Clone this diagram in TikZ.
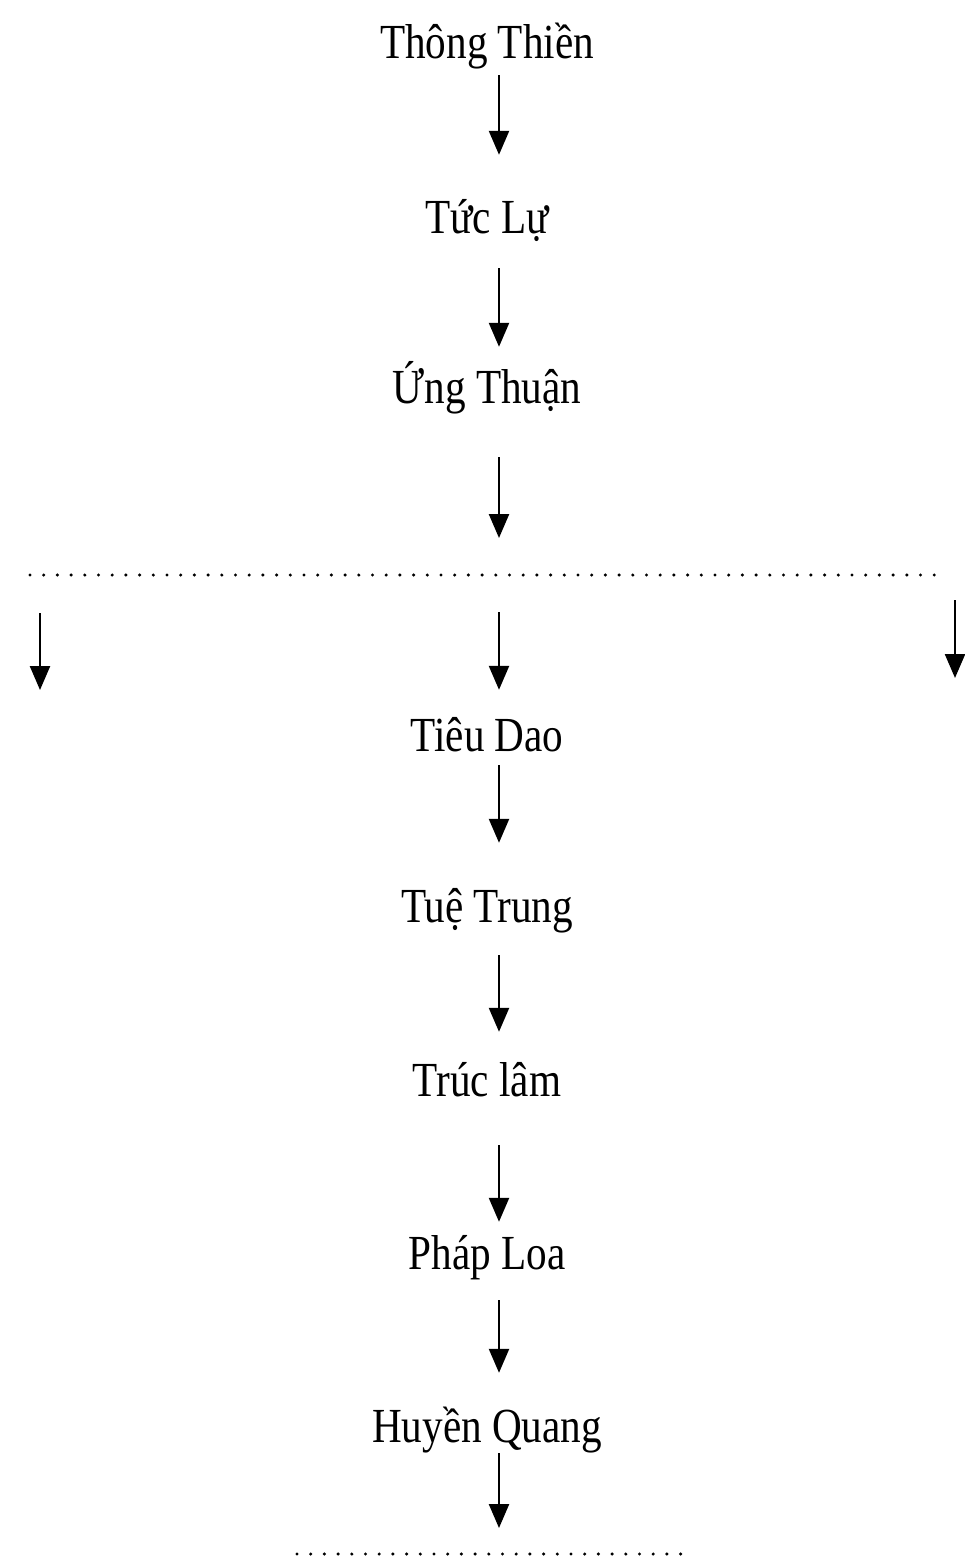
\documentclass[tikz,border=0pt]{standalone}
\usepackage{fontspec}
\newfontfamily\namefont[FakeStretch=0.84]{Liberation Serif}
\usetikzlibrary{arrows.meta}

\tikzset{
  monk/.style={inner sep=0pt,anchor=base,text height=36pt,text depth=11pt,
    font=\namefont\fontsize{49}{55}\selectfont},
  arr/.style={line width=2.4pt,-{Triangle[width=20pt,length=24pt]}},
  dots/.style={line width=3.4pt,line cap=round,dash pattern=on 0pt off 13.7pt}
}

\begin{document}
\begin{tikzpicture}[x=1pt,y=-1pt]
\useasboundingbox (0,0) rectangle (965,1556);

\node [monk] (thongthien) at (487,  58) {Thông Thiền};
\node [monk] (tucluc)     at (487, 233) {Tức Lự};
\node [monk] (ungthuan)   at (487, 403) {Ứng Thuận};
\node [monk] (tieudao)    at (487, 751) {Tiêu Dao};
\node [monk] (tuetrung)   at (487, 922) {Tuệ Trung};
\node [monk] (truclam)    at (487,1096) {Trúc lâm};
\node [monk] (phaploa)    at (487,1269) {Pháp Loa};
\node [monk] (huyenquang) at (487,1442) {Huyền Quang};

% branch line and its ends
\coordinate (dl) at ( 30,575);
\coordinate (dr) at (945,575);
\coordinate (bl) at ( 40,575);
\coordinate (bm) at (499,575);
\coordinate (br) at (955,575);
\coordinate (bl-end) at ( 40,690);
\coordinate (br-end) at (955,678);
\draw [dots] (dl) -- (dr);

% bottom line
\coordinate (el) at (297,1554);
\coordinate (er) at (681,1554);
\coordinate (em) at (499,1554);
\draw [dots] (el) -- (er);

\draw [arr,shorten <=6pt,shorten >=42pt] ([xshift=12]thongthien.south) -- ([xshift=12]tucluc.north);
\draw [arr,shorten <=24pt,shorten >=20pt] ([xshift=12]tucluc.south) -- ([xshift=12]ungthuan.north);
\draw [arr,shorten <=43pt,shorten >=37pt] ([xshift=12]ungthuan.south) -- (bm);

\draw [arr,shorten <=38pt] (bl) -- (bl-end);
\draw [arr,shorten <=37pt,shorten >=25pt] (bm) -- ([xshift=12]tieudao.north);
\draw [arr,shorten <=25pt] (br) -- (br-end);

\draw [arr,shorten <=3pt,shorten >=43pt] ([xshift=12]tieudao.south) -- ([xshift=12]tuetrung.north);
\draw [arr,shorten <=22pt,shorten >=28pt] ([xshift=12]tuetrung.south) -- ([xshift=12]truclam.north);
\draw [arr,shorten <=38pt,shorten >=11pt] ([xshift=12]truclam.south) -- ([xshift=12]phaploa.north);
\draw [arr,shorten <=20pt,shorten >=33pt] ([xshift=12]phaploa.south) -- ([xshift=12]huyenquang.north);
\draw [arr,shorten >=26pt] ([xshift=12]huyenquang.south) -- (em);
\end{tikzpicture}
\end{document}
